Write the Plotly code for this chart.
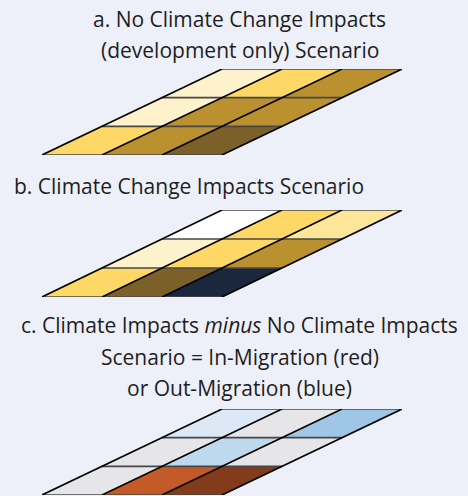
import plotly.graph_objects as go

# ---- data: cell classes, rows listed from back (top) to front (bottom), columns left to right
dev_only_classes = [[1, 3, 4],
                    [1, 4, 4],
                    [3, 4, 5]]
climate_classes = [[0, 3, 2],
                   [1, 3, 4],
                   [3, 5, 6]]
difference_classes = [[-1, 0, -3],
                      [0, -2, 0],
                      [0, 2, 3]]

density_palette = {0: "#ffffff", 1: "#fef2cd", 2: "#fde59a", 3: "#fdd866",
                   4: "#bb912f", 5: "#7b6029", 6: "#1b273d"}
diff_palette = {-3: "#9fc5e7", -2: "#bed8ee", -1: "#dce8f6", 0: "#e6e5e7",
                2: "#c45a27", 3: "#823c1b"}

title_lines_a = ["a. No Climate Change Impacts", "(development only) Scenario"]
title_b = "b. Climate Change Impacts Scenario"
title_lines_c = ["c. Climate Impacts <i>minus</i> No Climate Impacts",
                 "Scenario = In-Migration (red)", "or Out-Migration (blue)"]

W, H = 468, 496
BG = "#edf0f8"
FONT = "Open Sans"

fig = go.Figure()

panels = [
    (dev_only_classes, density_palette, 69, 155),
    (climate_classes, density_palette, 210, 297),
    (difference_classes, diff_palette, 409, 495),
]

line_traces = []
for i, (grid, pal, top_px, bot_px) in enumerate(panels):
    ax = "" if i == 0 else str(i + 1)
    xref, yref = "x" + ax, "y" + ax
    nrows = len(grid)
    ncols = len(grid[0])
    for ri, row in enumerate(grid):
        r = nrows - 1 - ri  # r=0 is front row
        for c, v in enumerate(row):
            xs = [c + r, c + r + 1, c + r + 2, c + r + 1, c + r]
            ys = [r, r, r + 1, r + 1, r]
            fig.add_trace(go.Scatter(x=xs, y=ys, mode="none", fill="toself",
                                     fillcolor=pal[v],
                                     hoverinfo="skip", showlegend=False,
                                     xaxis=xref, yaxis=yref))
    # horizontal grid lines
    hx, hy = [], []
    for r in range(nrows + 1):
        hx += [r, r + ncols, None]
        hy += [r, r, None]
    line_traces.append(go.Scatter(x=hx, y=hy, mode="lines",
                                  line=dict(color="#474747", width=1.7),
                                  hoverinfo="skip", showlegend=False,
                                  xaxis=xref, yaxis=yref))
    # slanted grid lines
    dx, dy = [], []
    for c in range(ncols + 1):
        dx += [c, c + nrows, None]
        dy += [0, nrows, None]
    line_traces.append(go.Scatter(x=dx, y=dy, mode="lines",
                                  line=dict(color="#000000", width=1.6),
                                  hoverinfo="skip", showlegend=False,
                                  xaxis=xref, yaxis=yref))
    axcommon = dict(visible=False, showgrid=False, zeroline=False, fixedrange=True)
    fig.update_layout(**{
        ("xaxis" + ax): dict(domain=[42 / W, 402 / W], range=[0, ncols + nrows],
                             anchor=yref, **axcommon),
        ("yaxis" + ax): dict(domain=[1 - bot_px / H, 1 - top_px / H], range=[0, nrows],
                             anchor=xref, **axcommon),
    })

for t in line_traces:
    fig.add_trace(t)

def ann(text, x_px, y_px, xanchor="center"):
    fig.add_annotation(text=text, x=x_px / W, y=1 - y_px / H, xref="paper", yref="paper",
                       xanchor=xanchor, yanchor="middle", showarrow=False,
                       font=dict(family=FONT, size=21, color="#1e1e1e"), align="center")

ann(title_lines_a[0], 240, 19)
ann(title_lines_a[1], 240, 50)
ann(title_b, 12, 186, xanchor="left")
for k, y in enumerate([325, 357, 388]):
    ann(title_lines_c[k], 240, y)

fig.update_layout(width=W, height=H, margin=dict(l=0, r=0, t=0, b=0),
                  paper_bgcolor=BG, plot_bgcolor=BG, showlegend=False)

fig.write_html("out.html", config={"displayModeBar": False},
               post_script="document.body.style.margin='0';document.body.style.background='" + BG + "';")
